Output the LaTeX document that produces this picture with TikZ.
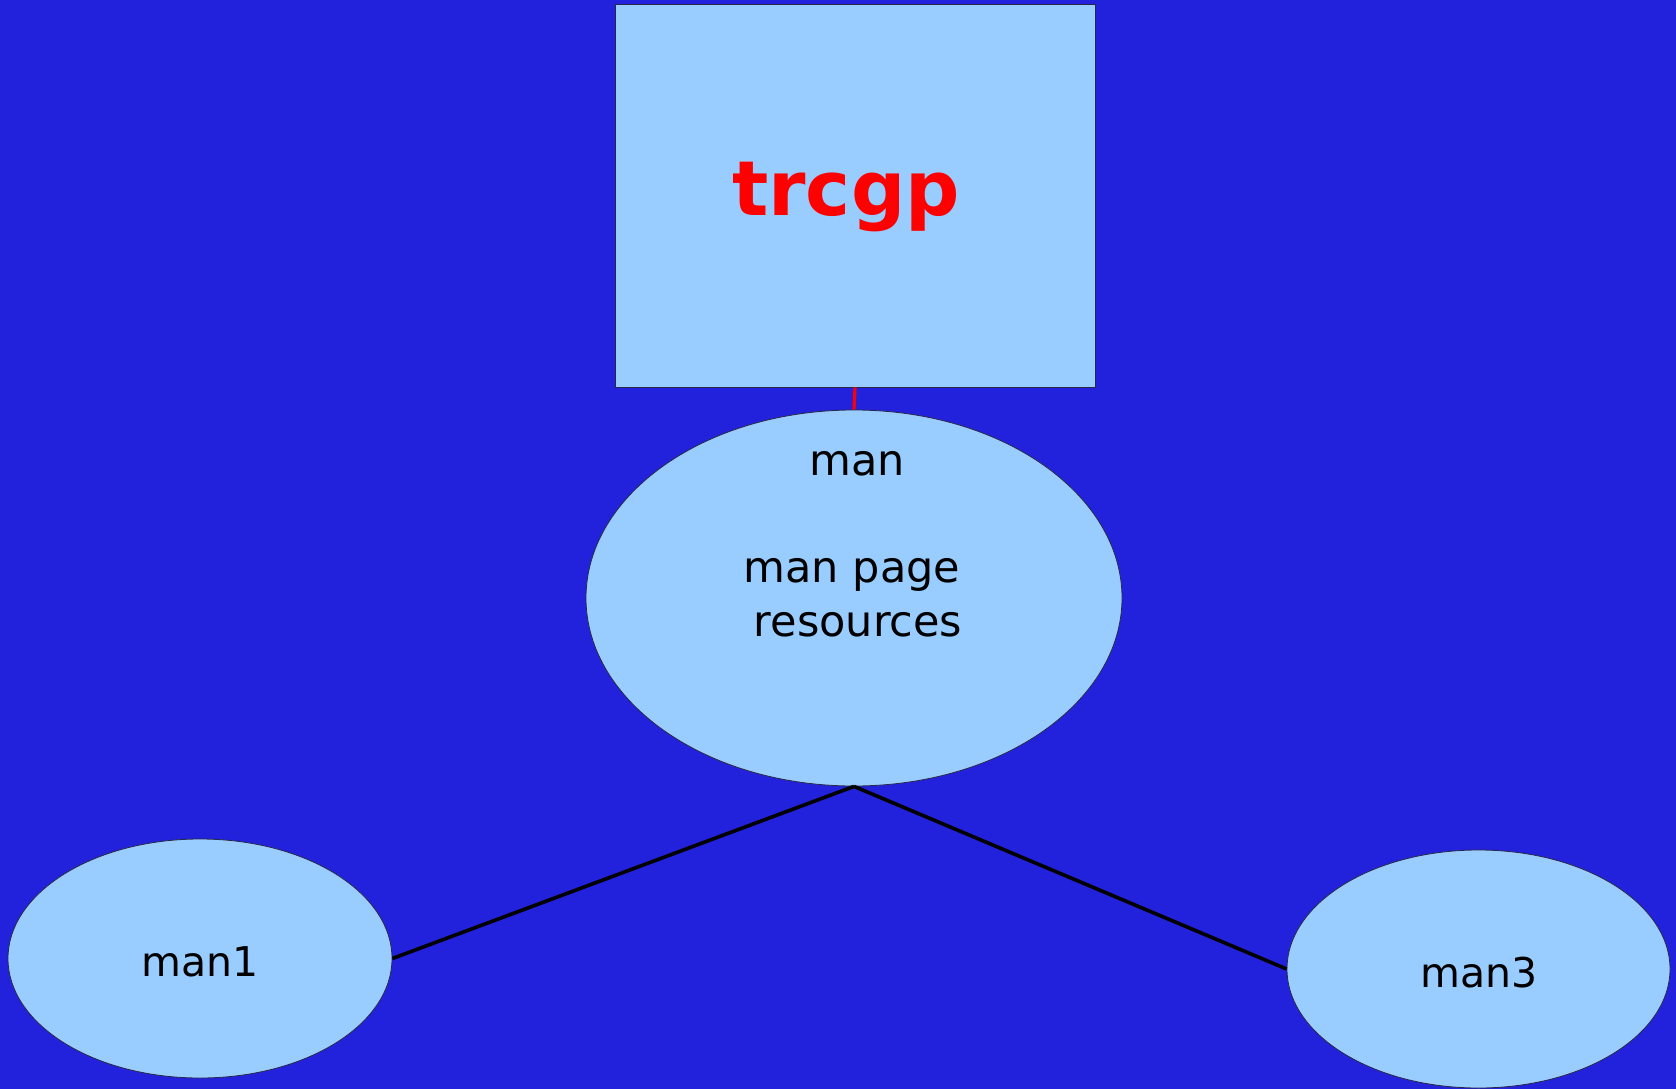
\documentclass[tikz,border=0pt]{standalone}
\usepackage{fontspec}
\setmainfont{DejaVu Sans}
\usetikzlibrary{shapes.geometric}
\definecolor{bg}{RGB}{34,34,221}
\definecolor{boxfill}{RGB}{153,204,255}
\definecolor{edge}{RGB}{40,40,70}
\begin{document}
\begin{tikzpicture}[x=1pt,y=-1pt,
 shapebox/.style={draw=edge, line width=0.8pt, fill=boxfill, inner sep=0pt},
 oval/.style={shapebox, ellipse},
 lbl/.style={font=\fontsize{43}{54}\selectfont, text=black, inner sep=0pt, anchor=base},
 smalllbl/.style={lbl, font=\fontsize{41}{50}\selectfont},
 title/.style={font=\bfseries\fontsize{76}{90}\selectfont, text=red, inner sep=0pt, anchor=base},
 link/.style={line width=3.6pt, black}]
\fill[bg] (0,0) rectangle (1676,1089);
\useasboundingbox (0,0) rectangle (1676,1089);
\node[shapebox, rectangle, minimum width=480pt, minimum height=383pt] (trcgp) at (855,195.5) {};
\node[title] (titletext) at (846,215) {trcgp};
\node[oval, minimum width=536pt, minimum height=376pt] (man) at (854,598) {};
\node[lbl] (manname) at (857,475) {man};
\node[lbl] (mandesc1) at (852,582) {man page};
\node[lbl] (mandesc2) at (858,636) {resources};
\node[oval, minimum width=384pt, minimum height=239pt] (man1) at (200,958.5) {};
\node[smalllbl] (man1lbl) at (200,976) {man1};
\node[oval, minimum width=383pt, minimum height=238pt] (man3) at (1478.5,969) {};
\node[smalllbl] (man3lbl) at (1479,987) {man3};
\draw[red, line width=3.2pt] (trcgp.south) -- (man.north);
\draw[link] (man.south) -- (man1.east);
\draw[link] (man.south) -- (man3.west);
\end{tikzpicture}
\end{document}
